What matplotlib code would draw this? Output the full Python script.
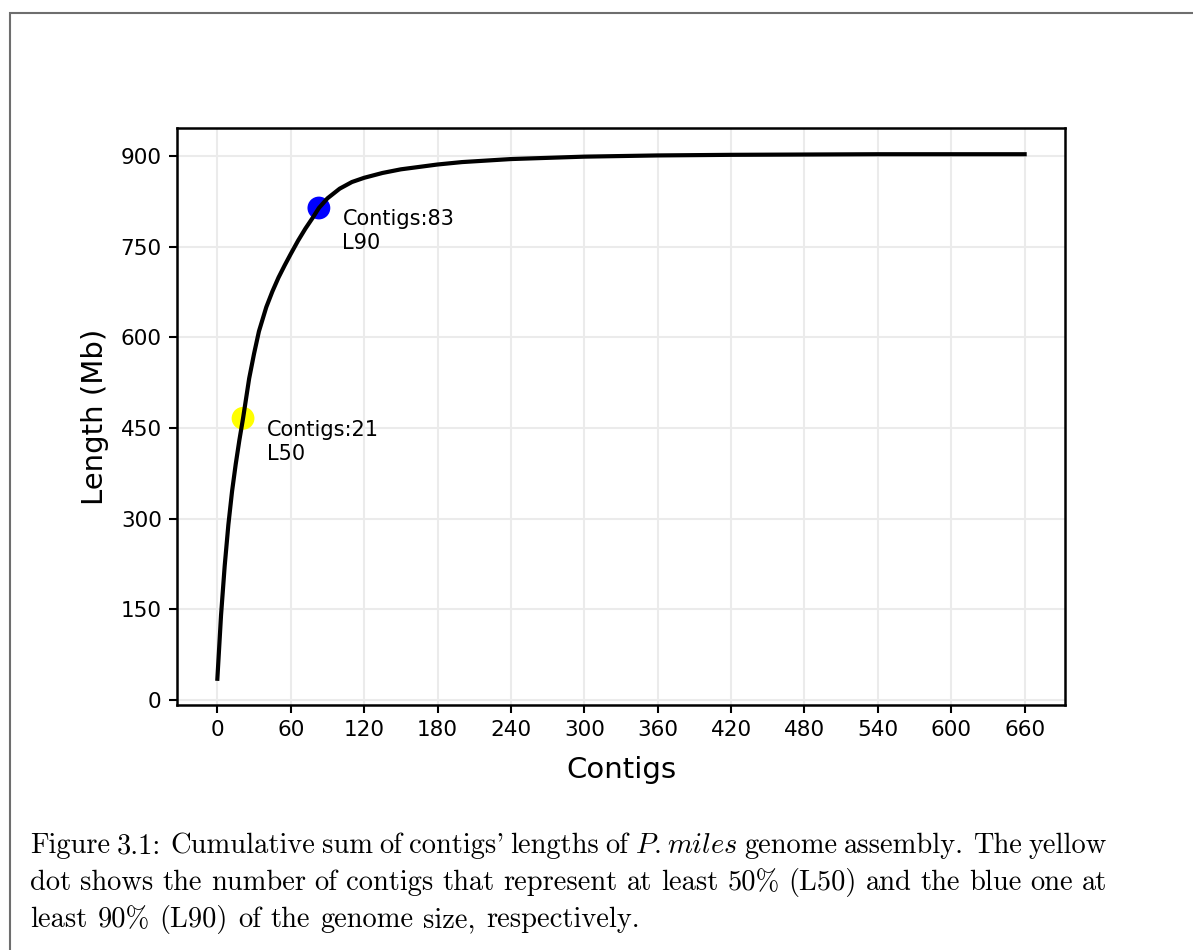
import matplotlib
matplotlib.use("Agg")
import matplotlib.pyplot as plt
from matplotlib.patches import Rectangle

plt.rcParams["mathtext.fontset"] = "cm"

# cumulative assembly length (Mb) at selected contig counts
contigs = [0, 3, 6, 9, 12, 15, 18, 21, 26, 30, 34, 40, 45, 50, 55, 60, 66,
           72, 78, 83, 90, 100, 110, 120, 135, 150, 165, 180, 200, 240, 270,
           300, 360, 420, 480, 540, 600, 660]
length_mb = [35, 140, 222, 290, 345, 390, 430, 466, 532, 573, 610, 650, 676,
             699, 719, 738, 760, 780, 798, 814, 830, 846, 857, 864, 872, 878,
             882, 886, 890, 895, 897, 899, 901, 902, 902.5, 903, 903, 903]

# L50 / L90 points
marker_x = [21, 83]
marker_y = [466, 814]
marker_colors = ["yellow", "blue"]
marker_labels = ["Contigs:21\nL50", "Contigs:83\nL90"]

x_ticks = list(range(0, 661, 60))
y_ticks = list(range(0, 901, 150))

caption = [
    ["Figure", "3.1:", "Cumulative", "sum", "of", "contigs'", "lengths", "of",
     r"$\mathit{P.}$", r"$\mathit{miles}$", "genome", "assembly.", "The", "yellow"],
    ["dot", "shows", "the", "number", "of", "contigs", "that", "represent", "at",
     "least", "50%", "(L50)", "and", "the", "blue", "one", "at"],
    ["least", "90%", "(L90)", "of", "the", "genome", "size,", "respectively."],
]
wide_after = {"3.1:", "assembly."}

W, H = 1193, 950
fig = plt.figure(figsize=(W / 100, H / 100), dpi=100)

# grey page frame (only top and left edges are inside the picture)
fig.add_artist(Rectangle((10 / W, -1), 2, 1 + (1 - 13 / H), fill=False,
                         edgecolor="#6e6e6e", lw=1.5, transform=fig.transFigure))

ax = fig.add_axes([177 / W, 1 - 705 / H, (1065 - 177) / W, (705 - 128) / H])
ax.scatter(marker_x, marker_y, s=270, c=marker_colors, linewidths=0, zorder=2)
ax.plot(contigs, length_mb, color="black", lw=3, zorder=3,
        solid_joinstyle="round")
for x, y, lab in zip(marker_x, marker_y, marker_labels):
    ax.annotate(lab, (x, y), xytext=(17, -1), textcoords="offset points",
                va="top", ha="left", fontsize=15, linespacing=1.25)

ax.set_xticks(x_ticks)
ax.set_yticks(y_ticks)
ax.grid(color="#ebebeb", lw=1.5)
ax.set_axisbelow(True)
ax.set_xlabel("Contigs", fontsize=21, labelpad=11)
ax.set_ylabel("Length (Mb)", fontsize=21, labelpad=8)
ax.tick_params(labelsize=15.5, width=1.5, length=6, pad=5)
for sp in ax.spines.values():
    sp.set_linewidth(1.8)

# justified caption, word by word
renderer = fig.canvas.get_renderer()
left_px, right_px = 30, 1107
baselines = [853, 890, 927]
for i, (words, base) in enumerate(zip(caption, baselines)):
    texts = [fig.text(0, 1 - base / H, w, fontsize=20.5, family="cmr10",
                      va="baseline", ha="left") for w in words]
    widths = [t.get_window_extent(renderer).width for t in texts]
    weights = [1.5 if w in wide_after else 1.0 for w in words[:-1]]
    if i < len(caption) - 1:
        unit = (right_px - left_px - sum(widths)) / sum(weights)
    else:
        unit = 10
    x = left_px
    for j, (t, w) in enumerate(zip(texts, widths)):
        t.set_x(x / W)
        if j < len(weights):
            x += w + unit * weights[j]

fig.savefig("out.png", dpi=100)
